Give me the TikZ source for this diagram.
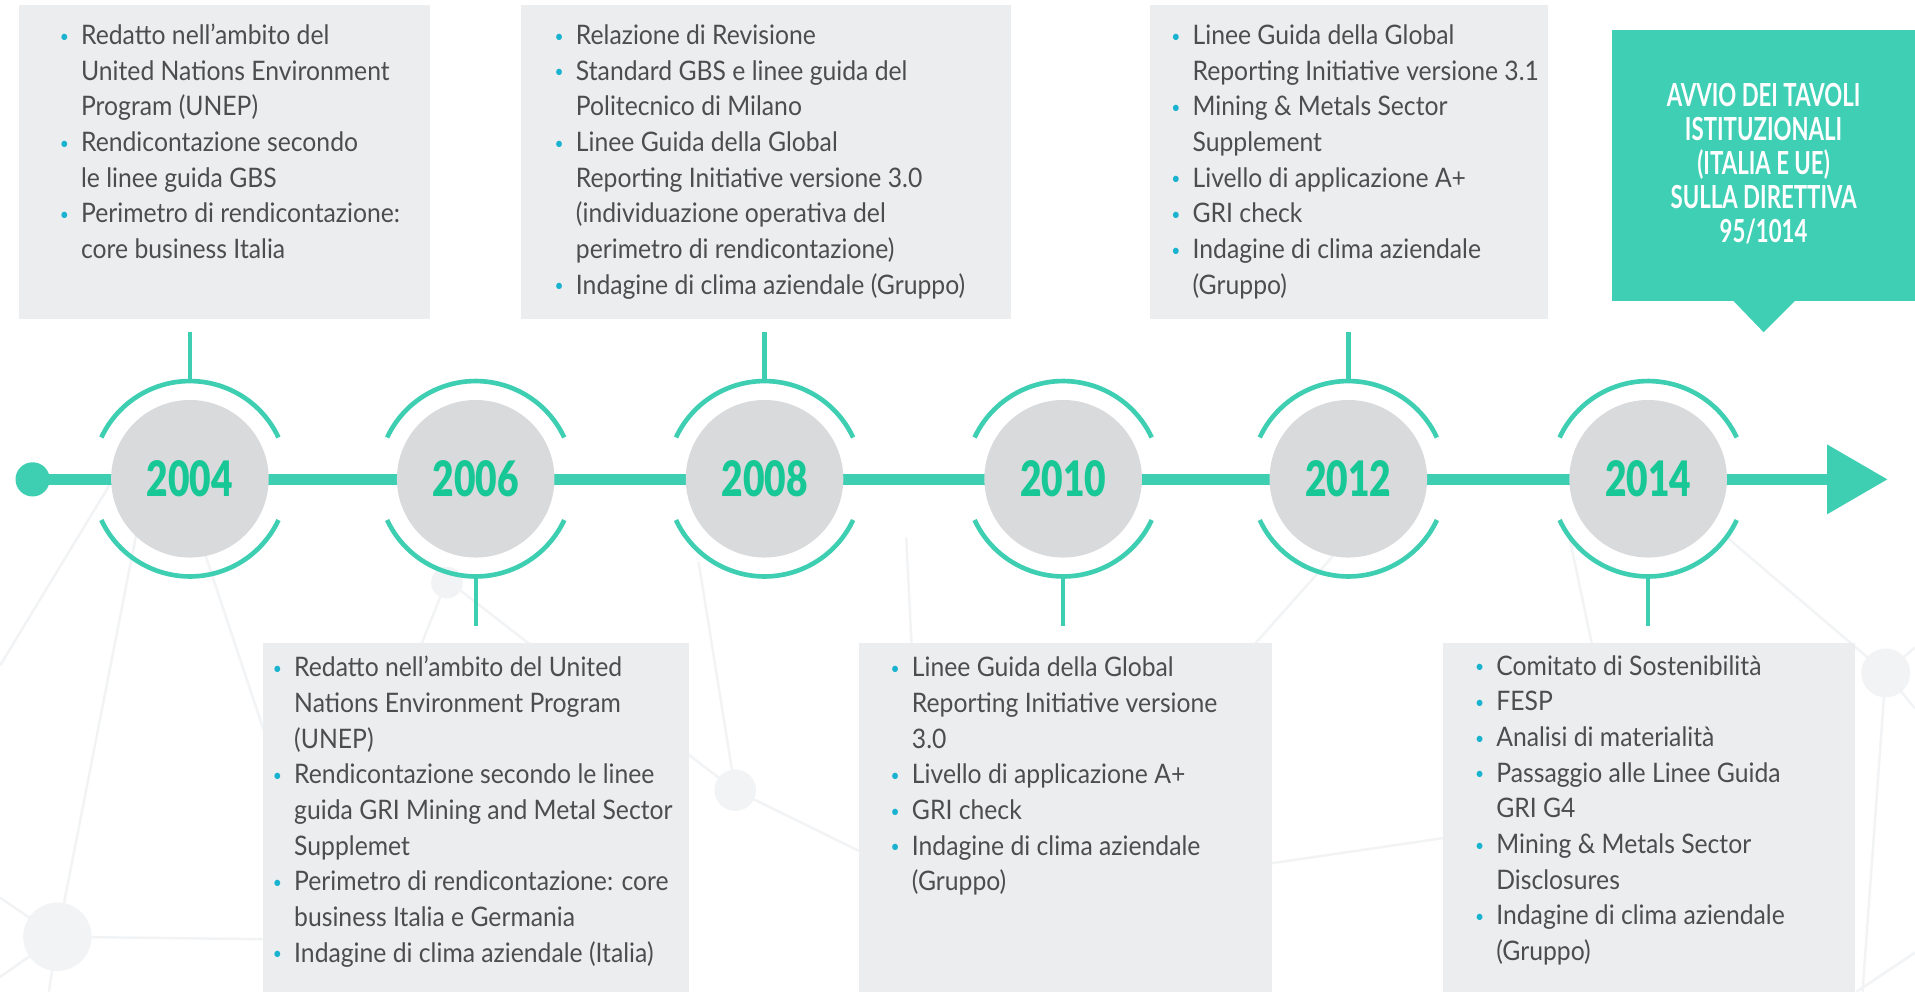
\documentclass[tikz,border=0pt]{standalone}
\usepackage{fontspec}
\setmainfont{Lato}
\newfontfamily\bodyfont{Lato}[FakeStretch=0.92]
\newfontfamily\yearfont{Lato}[FakeStretch=0.76, BoldFont={Lato Black}]
\newfontfamily\callfont{Lato}[FakeStretch=0.70]
\definecolor{ring}{HTML}{3ECEB2}
\definecolor{yearc}{HTML}{17C896}
\definecolor{circc}{HTML}{D9DADC}
\definecolor{boxc}{HTML}{ECEDEF}
\definecolor{txtc}{HTML}{4D4D50}
\definecolor{bul}{HTML}{1AB3CF}
\definecolor{callc}{HTML}{3FCFB4}
\definecolor{faintc}{HTML}{F2F3F5}
\definecolor{faintfill}{HTML}{F2F3F5}
\newcommand\itm{\leavevmode\llap{\textcolor{bul}{\fontsize{14}{14}\selectfont\raisebox{2pt}{•}}\hspace{10pt}}\strut}
\tikzset{
  boxst/.style={fill=boxc, draw=none, inner sep=0, anchor=north west},
  txt/.style={anchor=north west, inner sep=0, align=left, text=txtc, font=\bodyfont\fontsize{22}{29.2}\selectfont},
  ringst/.style={draw=ring, line width=3.8pt},
  stemst/.style={draw=ring, line width=3.6pt},
  yr/.style={circle, fill=circc, minimum size=129pt, inner sep=0, text=yearc, font=\yearfont\bfseries\fontsize{40}{40}\selectfont},
  faint/.style={draw=faintc, line width=2pt},
}
\begin{document}
\begin{tikzpicture}[x=1pt,y=-1pt]
\useasboundingbox[fill=white] (0,0) rectangle (1568,812);
% faint background network
\begin{scope}[faint]
\draw (100,380) -- (0,545);
\draw (115,420) -- (47,767) -- (40,812);
\draw (160,430) -- (230,640);
\draw (47,767) -- (215,769);
\draw (47,767) -- (0,735);
\draw (47,767) -- (0,800);
\draw (366,475) -- (340,540);
\draw (366,475) -- (450,540);
\draw (560,615) -- (602,647) -- (710,700);
\draw (572,460) -- (602,647);
\draw (742,440) -- (747,540);
\draw (1025,530) -- (1105,440);
\draw (1040,707) -- (1190,685);
\draw (1285,440) -- (1304,530);
\draw (1414,440) -- (1544,551);
\draw (1544,551) -- (1568,530);
\draw (1544,551) -- (1568,580);
\draw (1544,551) -- (1525,812);
\draw (1520,812) -- (1568,780);
\end{scope}
\fill[faintfill] (47,767) circle[radius=28pt];
\fill[faintfill] (602,647) circle[radius=17pt];
\fill[faintfill] (366,477) circle[radius=13pt];
\fill[faintfill] (1544,551) circle[radius=20pt];
% boxes
\node[boxst, minimum width=337pt, minimum height=257pt] (bA) at (15,4) {};
\node[boxst, minimum width=402pt, minimum height=257pt] (bB) at (426,4) {};
\node[boxst, minimum width=326pt, minimum height=257pt] (bC) at (941.6,4) {};
\node[boxst, minimum width=349pt, minimum height=286pt] (bD) at (215,526) {};
\node[boxst, minimum width=338.5pt, minimum height=286pt] (bE) at (702.8,526) {};
\node[boxst, minimum width=337pt, minimum height=286pt] (bF) at (1181.3,526) {};
% texts
\node[txt] (tA) at (66.2,15.9) {\itm Redatto nell’ambito del\\United Nations Environment\\Program (UNEP)\\\itm Rendicontazione secondo\\le linee guida GBS\\\itm Perimetro di rendicontazione:\\core business Italia};
\node[txt] (tB) at (471.4,15.9) {\itm Relazione di Revisione\\\itm Standard GBS e linee guida del\\Politecnico di Milano\\\itm Linee Guida della Global\\Reporting Initiative versione 3.0\\(individuazione operativa del\\perimetro di rendicontazione)\\\itm Indagine di clima aziendale (Gruppo)};
\node[txt] (tC) at (976.3,15.9) {\itm Linee Guida della Global\\Reporting Initiative versione 3.1\\\itm Mining \& Metals Sector\\Supplement\\\itm Livello di applicazione A+\\\itm GRI check\\\itm Indagine di clima aziendale\\(Gruppo)};
\node[txt] (tD) at (240.7,533.6) {\itm Redatto nell’ambito del United\\Nations Environment Program\\(UNEP)\\\itm Rendicontazione secondo le linee\\guida GRI Mining and Metal Sector\\Supplemet\\\itm Perimetro di rendicontazione: core\\business Italia e Germania\\\itm Indagine di clima aziendale (Italia)};
\node[txt] (tE) at (746.5,533.6) {\itm Linee Guida della Global\\Reporting Initiative versione\\3.0\\\itm Livello di applicazione A+\\\itm GRI check\\\itm Indagine di clima aziendale\\(Gruppo)};
\node[txt] (tF) at (1225,532.3) {\itm Comitato di Sostenibilità\\\itm FESP\\\itm Analisi di materialità\\\itm Passaggio alle Linee Guida\\GRI G4\\\itm Mining \& Metals Sector\\Disclosures\\\itm Indagine di clima aziendale\\(Gruppo)};
% timeline
\node[circle, fill=ring, minimum size=28pt, inner sep=0] (start) at (26.7,392.5) {};
\coordinate (abase) at (1496,392.5);
\coordinate (atip) at (1545.3,392.5);
\draw[ring, line width=9pt] (start.center) -- (abase);
\fill[ring] ([yshift=28.6pt]abase) -- (atip) -- ([yshift=-28.6pt]abase) -- cycle;
% years
\foreach \nm/\xx in {04/155.5, 06/389.5, 08/626, 10/870.5, 12/1104, 14/1349.5}{
  \draw[ringst] (\xx,392) ++(72.5,-33.8) arc[start angle=25, end angle=155, radius=80pt];
  \draw[ringst] (\xx,392) ++(-72.5,33.8) arc[start angle=205, end angle=335, radius=80pt];
  \node[yr] (y\nm) at (\xx,392) {\raisebox{-2.5pt}{20\nm}};
}
% stems
\foreach \nm in {04,08,12}{
  \draw[stemst] ([yshift=15.5pt]y\nm.north) -- ([yshift=55.5pt]y\nm.north);
}
\foreach \nm in {06,10,14}{
  \draw[stemst] ([yshift=-16.5pt]y\nm.south) -- ([yshift=-55.5pt]y\nm.south);
}
% callout
\node[fill=callc, minimum width=248pt, minimum height=222pt, anchor=north west, inner sep=0] (call) at (1320,24) {};
\fill[callc] (1418,245) -- (1444,272) -- (1471,245) -- cycle;
\node[align=center, text=white, inner sep=0, font=\callfont\bfseries\fontsize{26}{28}\selectfont] (ctext) at (1444,134) {AVVIO DEI TAVOLI\\ISTITUZIONALI\\(ITALIA E UE)\\SULLA DIRETTIVA\\95/1014};
\end{tikzpicture}
\end{document}
